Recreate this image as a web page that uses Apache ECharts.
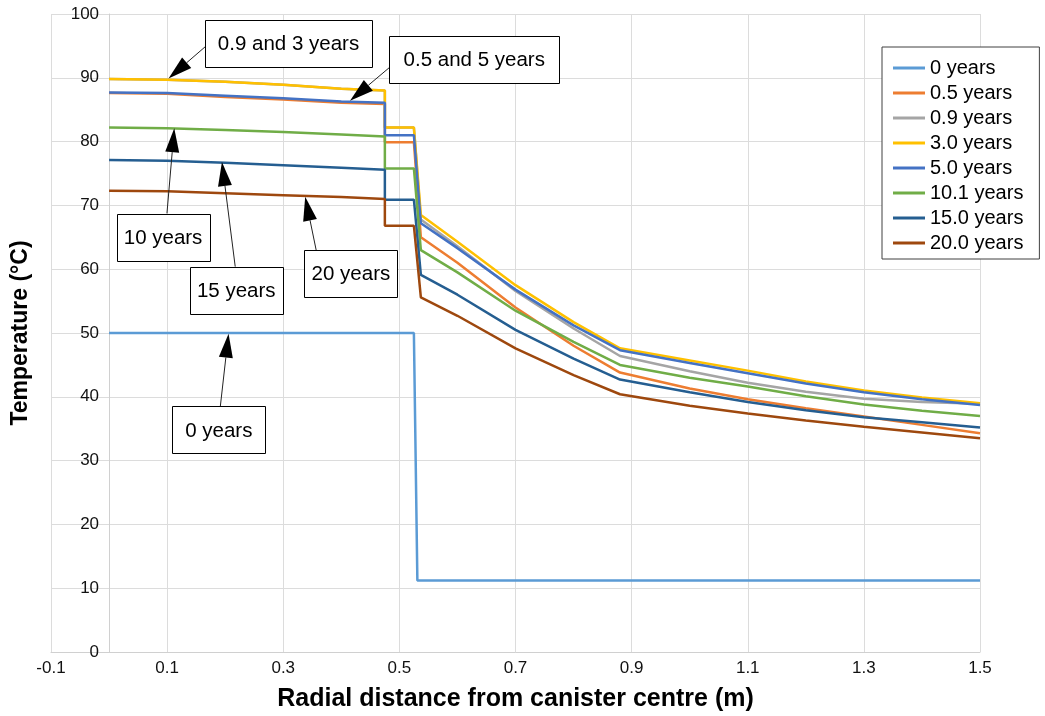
<!DOCTYPE html>
<html>
<head>
<meta charset="utf-8">
<title>Canister temperature</title>
<script src="https://cdn.jsdelivr.net/npm/echarts@6/dist/echarts.min.js"></script>
<style>
  html, body { margin: 0; padding: 0; background: #fff; }
  #main { width: 1045px; height: 716px; }
</style>
</head>
<body>
<div id="main"></div>
<script>
// legend names
const seriesNames = ['0 years', '0.5 years', '0.9 years', '3.0 years', '5.0 years', '10.1 years', '15.0 years', '20.0 years'];

// radial distance (m) for the 0 year curve
const radius0 = [0, 0.525, 0.531, 1.5];
const temp0 = [50, 50, 11.2, 11.2];

// radial distance (m) shared by the other curves
const radius = [0, 0.1, 0.2, 0.3, 0.4, 0.475, 0.475, 0.525, 0.537, 0.6, 0.7, 0.8, 0.88, 1.0, 1.1, 1.2, 1.3, 1.4, 1.5];
const temp05 = [87.6, 87.5, 87.0, 86.6, 86.1, 85.9, 79.9, 79.9, 65.0, 61.0, 54.0, 48.0, 43.8, 41.3, 39.6, 38.2, 36.9, 35.6, 34.3];
const temp09 = [89.8, 89.7, 89.4, 88.9, 88.3, 88.0, 82.2, 82.2, 67.8, 63.6, 56.6, 50.7, 46.4, 44.0, 42.2, 40.8, 39.7, 39.2, 38.9];
const temp3 = [89.8, 89.7, 89.4, 88.9, 88.3, 88.0, 82.2, 82.2, 68.5, 64.3, 57.5, 51.7, 47.6, 45.7, 44.1, 42.4, 41.0, 39.9, 39.0];
const temp5 = [87.7, 87.6, 87.2, 86.8, 86.3, 86.1, 81.0, 81.0, 67.2, 63.3, 56.8, 51.2, 47.3, 45.3, 43.7, 42.1, 40.7, 39.6, 38.7];
const temp10 = [82.2, 82.1, 81.8, 81.5, 81.1, 80.8, 75.8, 75.8, 63.0, 59.5, 53.5, 48.6, 45.0, 43.0, 41.6, 40.1, 38.8, 37.8, 37.0];
const temp15 = [77.1, 77.0, 76.7, 76.3, 75.9, 75.6, 70.9, 70.9, 59.1, 56.0, 50.5, 46.0, 42.7, 40.7, 39.2, 37.9, 36.8, 36.0, 35.2];
const temp20 = [72.3, 72.2, 71.9, 71.6, 71.3, 71.0, 66.8, 66.8, 55.6, 52.7, 47.6, 43.4, 40.4, 38.6, 37.4, 36.3, 35.3, 34.4, 33.5];

// callouts: text, box centre, arrow start, arrow tip (data coords)
const noteText = ['0.9 and 3 years', '0.5 and 5 years', '10 years', '15 years', '20 years', '0 years'];
const noteBox = [[0.309, 95.4], [0.629, 92.9], [0.093, 65.0], [0.219, 56.7], [0.4165, 59.3], [0.189, 34.8]];
const noteFrom = [[0.166, 94.9], [0.484, 91.7], [0.0997, 68.75], [0.2173, 60.4], [0.3567, 63.0], [0.1915, 38.4]];
const noteTip = [[0.1024, 89.9], [0.415, 86.4], [0.1123, 82.1], [0.1944, 76.8], [0.3378, 71.35], [0.2058, 49.9]];

const colors = ['#5B9BD5', '#ED7D31', '#A5A5A5', '#FFC000', '#4472C4', '#70AD47', '#255E91', '#9E480E'];
const font = '"Liberation Sans", Arial, sans-serif';

const zip = (xs, ys) => xs.map((x, i) => [x, ys[i]]);
const curves = [
  zip(radius0, temp0),
  zip(radius, temp05),
  zip(radius, temp09),
  zip(radius, temp3),
  zip(radius, temp5),
  zip(radius, temp10),
  zip(radius, temp15),
  zip(radius, temp20)
];

const chart = echarts.init(document.getElementById('main'));

const option = {
  animation: false,
  textStyle: { fontFamily: font },
  grid: { left: 51, top: 14, right: 65, bottom: 64, outerBoundsMode: 'none' },
  legend: {
    data: seriesNames,
    orient: 'vertical',
    left: 882,
    top: 47,
    icon: 'rect',
    itemWidth: 32,
    itemHeight: 3,
    itemGap: 5,
    padding: [11, 16, 6, 11],
    borderColor: '#404040',
    borderWidth: 1,
    backgroundColor: '#fff',
    textStyle: { fontSize: 20, color: '#000', fontFamily: font }
  },
  xAxis: {
    type: 'value',
    min: -0.1,
    max: 1.5,
    interval: 0.2,
    name: 'Radial distance from canister centre (m)',
    nameLocation: 'middle',
    nameGap: 35,
    nameTextStyle: { fontSize: 25, fontWeight: 'bold', color: '#000', fontFamily: font },
    axisLine: { onZero: false, lineStyle: { color: '#d0d0d0', width: 1 } },
    axisTick: { show: false },
    axisLabel: { fontSize: 17, color: '#111', margin: 8, fontFamily: font },
    splitLine: { show: true, lineStyle: { color: '#dcdcdc', width: 1 } }
  },
  yAxis: {
    type: 'value',
    min: 0,
    max: 100,
    interval: 10,
    offset: 0,
    name: 'Temperature (°C)',
    nameLocation: 'middle',
    nameGap: 77,
    nameTextStyle: { fontSize: 23, fontWeight: 'bold', color: '#000', fontFamily: font },
    axisLine: { show: true, onZero: false, lineStyle: { color: '#d0d0d0', width: 1 } },
    axisTick: { show: false },
    axisLabel: { fontSize: 17, color: '#111', margin: 10, fontFamily: font },
    splitLine: { show: true, lineStyle: { color: '#dcdcdc', width: 1 } }
  },
  series: seriesNames.map((name, i) => ({
    name: name,
    type: 'line',
    data: curves[i],
    showSymbol: false,
    symbol: 'none',
    color: colors[i],
    lineStyle: { width: 2.5, color: colors[i] },
    z: 2 + i
  }))
};

chart.setOption(option);

// the value axis crosses at x = 0, with its labels beside it
const leftEdge = chart.convertToPixel({ xAxisIndex: 0 }, -0.1);
const zeroX = chart.convertToPixel({ xAxisIndex: 0 }, 0);
chart.setOption({ yAxis: { offset: -(zeroX - leftEdge) } });

// callout boxes and arrows, placed through the grid's own scales
const boxSize = [[167, 47], [170, 47], [93, 47], [93, 47], [93, 47], [93, 47]];
const elements = [];
noteText.forEach((text, i) => {
  const c = chart.convertToPixel({ gridIndex: 0 }, noteBox[i]);
  const f = chart.convertToPixel({ gridIndex: 0 }, noteFrom[i]);
  const t = chart.convertToPixel({ gridIndex: 0 }, noteTip[i]);
  const ang = Math.atan2(t[1] - f[1], t[0] - f[0]);
  const headLen = 24, headW = 14;
  const bx = t[0] - headLen * Math.cos(ang);
  const by = t[1] - headLen * Math.sin(ang);
  const px = -Math.sin(ang) * headW / 2;
  const py = Math.cos(ang) * headW / 2;
  const w = boxSize[i][0], h = boxSize[i][1];
  elements.push({
    type: 'line', z: 100,
    shape: { x1: f[0], y1: f[1], x2: bx, y2: by },
    style: { stroke: '#222', lineWidth: 1 }
  });
  elements.push({
    type: 'polygon', z: 100,
    shape: { points: [[t[0], t[1]], [bx + px, by + py], [bx - px, by - py]] },
    style: { fill: '#000' }
  });
  elements.push({
    type: 'rect', z: 100,
    shape: { x: Math.round(c[0] - w / 2) + 0.5, y: Math.round(c[1] - h / 2) + 0.5, width: w, height: h },
    style: { fill: '#fff', stroke: '#000', lineWidth: 1 }
  });
  elements.push({
    type: 'text', z: 101,
    x: c[0], y: c[1] + 1,
    style: { text: text, font: '20.5px ' + font, fill: '#000', align: 'center', verticalAlign: 'middle' }
  });
});
chart.setOption({ graphic: elements });
</script>
</body>
</html>
